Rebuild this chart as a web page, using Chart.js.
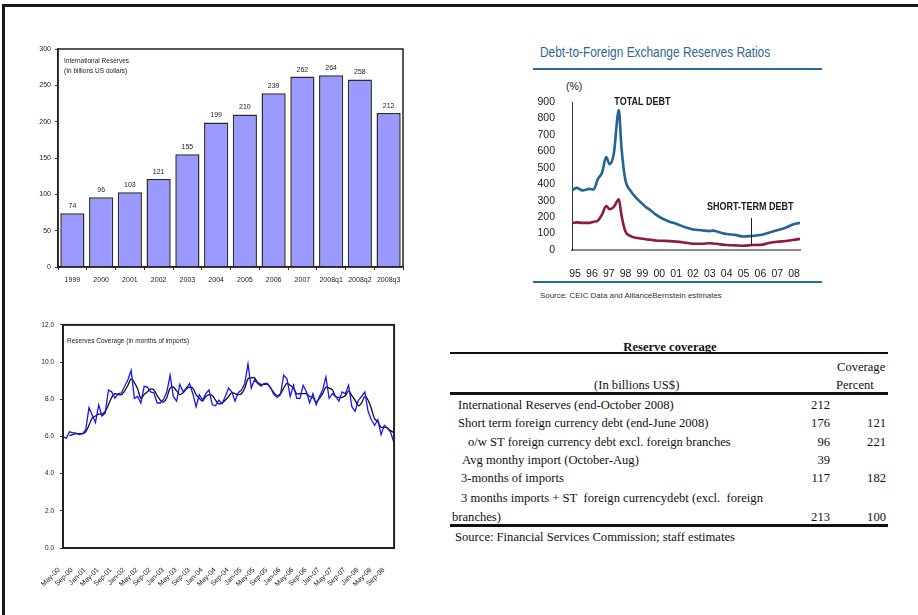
<!DOCTYPE html>
<html>
<head>
<meta charset="utf-8">
<script src="https://cdn.jsdelivr.net/npm/chart.js@4.4.1/dist/chart.umd.min.js"></script>
<style>
  body { margin: 0; width: 918px; height: 615px; background: #fff; position: relative; overflow: hidden; font-family: "Liberation Sans", Arial, sans-serif; }
  .frame { position: absolute; left: 2px; top: 4px; width: 940px; height: 640px; border-top: 3px solid #1a1a1a; border-left: 3px solid #1a1a1a; }
  .box { position: absolute; }
  .narrow { position: absolute; white-space: nowrap; font-family: "Liberation Sans", Arial, sans-serif; transform-origin: 0 0; }
  .t { position: absolute; white-space: nowrap; font-family: "Liberation Serif", "Times New Roman", serif; font-size: 12.6px; line-height: 16px; color: #111; }
  .n { text-align: right; width: 40px; }
  .rule { position: absolute; background: #111; }
</style>
</head>
<body>
<div class="frame"></div>

<div class="box" style="left:0;top:40px;width:410px;height:260px"><canvas id="reserves"></canvas></div>
<div class="box" style="left:0;top:315px;width:410px;height:300px"><canvas id="coverage"></canvas></div>

<div class="narrow" style="left:540px;top:44px;font-size:14px;color:#2b6898;transform:scaleX(0.85)">Debt-to-Foreign Exchange Reserves Ratios</div>
<div class="rule" style="left:533px;top:68px;width:289px;height:2px;background:#2a6a96"></div>
<div class="narrow" style="left:566px;top:80px;font-size:10.5px;color:#222">(%)</div>
<div class="box" style="left:525px;top:80px;width:300px;height:200px"><canvas id="debt"></canvas></div>
<div class="rule" style="left:533px;top:281px;width:289px;height:2px;background:#2a6a96"></div>
<div class="narrow" style="left:540px;top:291px;font-size:8px;color:#333;transform:scaleX(0.99)">Source: CEIC Data and AllianceBernstein estimates</div>

<!-- reserve coverage table -->
<div class="t" style="left:450px;top:339px;width:440px;text-align:center;font-weight:bold">Reserve coverage</div>
<div class="rule" style="left:450px;top:352px;width:438px;height:1.5px"></div>
<div class="t" style="left:837px;top:359px">Coverage</div>
<div class="t" style="left:594px;top:377px">(In billions US$)</div>
<div class="t" style="left:836px;top:377px">Percent</div>
<div class="rule" style="left:450px;top:392px;width:438px;height:2.5px"></div>

<div class="t" style="left:458px;top:397px">International Reserves (end-October 2008)</div>
<div class="t n" style="left:790px;top:397px">212</div>

<div class="t" style="left:458px;top:415px">Short term foreign currency debt (end-June 2008)</div>
<div class="t n" style="left:790px;top:415px">176</div>
<div class="t n" style="left:846px;top:415px">121</div>

<div class="t" style="left:468px;top:434px">o/w ST foreign currency debt excl. foreign branches</div>
<div class="t n" style="left:790px;top:434px">96</div>
<div class="t n" style="left:846px;top:434px">221</div>

<div class="t" style="left:462px;top:452px">Avg monthy import (October-Aug)</div>
<div class="t n" style="left:790px;top:452px">39</div>

<div class="t" style="left:461px;top:470px">3-months of imports</div>
<div class="t n" style="left:790px;top:470px">117</div>
<div class="t n" style="left:846px;top:470px">182</div>

<div class="t" style="left:461px;top:490px">3 months imports + ST&nbsp; foreign currencydebt (excl.&nbsp; foreign</div>
<div class="t" style="left:452px;top:509px">branches)</div>
<div class="t n" style="left:790px;top:509px">213</div>
<div class="t n" style="left:846px;top:509px">100</div>
<div class="rule" style="left:450px;top:524px;width:438px;height:2.5px"></div>
<div class="t" style="left:455px;top:529px">Source: Financial Services Commission; staff estimates</div>

<script>
// International reserves, billions of US dollars
const reserveYears = ['1999', '2000', '2001', '2002', '2003', '2004', '2005', '2006', '2007', '2008q1', '2008q2', '2008q3'];
const reserveValues = [74, 96, 103, 121, 155, 199, 210, 239, 262, 264, 258, 212];
const reserveTicks = [0, 50, 100, 150, 200, 250, 300];

// Debt-to-reserves ratios (%), by decimal year
const debtDates = [1994.85, 1995.1, 1995.45, 1995.85, 1996.1, 1996.35, 1996.6, 1996.85, 1997.05, 1997.3,
  1997.6, 1997.75, 1997.98, 1998.3, 1998.6, 1998.9, 1999.2, 1999.5, 1999.8, 2000.2,
  2000.6, 2001.0, 2001.5, 2002.0, 2002.5, 2003.0, 2003.2, 2003.5, 2004.0, 2004.5,
  2005.0, 2005.5, 2006.0, 2006.5, 2007.0, 2007.5, 2008.0, 2008.35];
const totalDebt = [365, 378, 362, 372, 368, 430, 470, 565, 522, 585,
  851, 630, 430, 360, 320, 290, 262, 240, 215, 190,
  172, 160, 140, 125, 120, 115, 118, 110, 97, 92,
  82, 86, 91, 105, 120, 135, 158, 165];
const shortTermDebt = [165, 168, 165, 165, 172, 178, 215, 268, 248, 262,
  308, 215, 115, 85, 75, 70, 65, 62, 58, 56,
  54, 51, 45, 38, 38, 41, 40, 36, 30, 28,
  26, 30, 31, 42, 50, 55, 62, 68];
const debtYearTicks = [1995, 1996, 1997, 1998, 1999, 2000, 2001, 2002, 2003, 2004, 2005, 2006, 2007, 2008];
const debtTicks = [0, 100, 200, 300, 400, 500, 600, 700, 800, 900];

// Reserves coverage in months of imports, monthly from May-00
const coverageMonthly = [6.0, 5.9, 6.25, 6.2, 6.18, 6.1, 6.15, 6.35, 7.55, 7.15,
  6.75, 7.7, 7.1, 7.25, 8.5, 8.4, 8.05, 8.3, 8.35, 8.7,
  9.05, 9.55, 8.05, 8.15, 7.8, 8.7, 8.65, 8.4, 8.35, 7.8,
  7.8, 8.0, 8.4, 9.3, 8.15, 7.9, 8.8, 8.4, 8.6, 8.85,
  8.3, 7.6, 8.25, 7.95, 8.3, 8.5, 7.7, 7.65, 7.95, 7.75,
  8.15, 8.6, 8.4, 7.9, 8.35, 8.5, 8.85, 9.9, 8.6, 9.05,
  8.85, 8.7, 8.85, 8.85, 8.6, 8.25, 8.1, 8.25, 9.3, 9.1,
  8.15, 8.75, 8.05, 8.05, 8.75, 8.4, 7.8, 8.3, 7.7, 8.15,
  8.5, 9.2, 8.05, 8.3, 8.15, 7.9, 8.4, 8.3, 8.75, 7.6,
  7.35, 7.95, 8.15, 8.4, 7.35, 6.9, 6.6, 6.9, 6.1, 6.6,
  6.45, 6.2, 5.65];
const coverageAverage = [null, null, 6.05, 6.1, 6.15, 6.15, 6.15, 6.25, 6.6, 7.0,
  7.1, 7.2, 7.2, 7.35, 7.7, 8.1, 8.3, 8.25, 8.25, 8.45,
  8.75, 9.1, 8.9, 8.55, 8.05, 8.25, 8.4, 8.55, 8.5, 8.2,
  7.95, 7.85, 8.1, 8.6, 8.65, 8.45, 8.25, 8.35, 8.55, 8.65,
  8.6, 8.25, 8.05, 7.9, 8.15, 8.25, 8.2, 7.95, 7.75, 7.8,
  7.95, 8.15, 8.35, 8.3, 8.25, 8.3, 8.6, 9.1, 9.15, 9.15,
  8.9, 8.8, 8.8, 8.8, 8.6, 8.35, 8.2, 8.3, 8.6, 8.85,
  8.75, 8.6, 8.3, 8.3, 8.3, 8.3, 8.15, 8.1, 7.85, 8.05,
  8.3, 8.65, 8.6, 8.5, 8.15, 8.1, 8.1, 8.2, 8.45, 8.2,
  7.95, 7.65, 7.8, 8.15, 7.95, 7.5, 6.95, 6.8, 6.5, 6.5,
  6.45, 6.3, 6.2];
const coverageTickLabels = ['May-00', 'Sep-00', 'Jan-01', 'May-01', 'Sep-01', 'Jan-02', 'May-02', 'Sep-02',
  'Jan-03', 'May-03', 'Sep-03', 'Jan-04', 'May-04', 'Sep-04', 'Jan-05', 'May-05', 'Sep-05',
  'Jan-06', 'May-06', 'Sep-06', 'Jan-07', 'May-07', 'Sep-07', 'Jan-08', 'May-08', 'Sep-08'];
const coverageTicks = [0, 2, 4, 6, 8, 10, 12];

const monthNames = ['Jan', 'Feb', 'Mar', 'Apr', 'May', 'Jun', 'Jul', 'Aug', 'Sep', 'Oct', 'Nov', 'Dec'];
const coverageMonths = coverageMonthly.map((v, i) => {
  const m = 4 + i;
  return monthNames[m % 12] + '-' + String(Math.floor(m / 12)).padStart(2, '0');
});

const SANS = '"Liberation Sans", Arial, sans-serif';

Chart.defaults.font.family = SANS;
Chart.defaults.color = '#222';
Chart.defaults.animation = false;
Chart.defaults.plugins.legend.display = false;
Chart.defaults.plugins.tooltip.enabled = false;

// box round the plot area
const frameBox = {
  id: 'frameBox',
  afterDatasetsDraw(chart, args, opts) {
    const { ctx, chartArea: a } = chart;
    ctx.save();
    ctx.strokeStyle = opts.color;
    ctx.lineWidth = opts.width;
    ctx.strokeRect(a.left, a.top, a.right - a.left, a.bottom - a.top);
    ctx.restore();
  }
};

// small caption in the top left corner of the plot area
const cornerCaption = {
  id: 'cornerCaption',
  afterDraw(chart, args, opts) {
    const { ctx, chartArea: a } = chart;
    ctx.save();
    ctx.font = opts.size + 'px ' + SANS;
    ctx.fillStyle = '#222';
    ctx.textBaseline = 'middle';
    opts.lines.forEach((line, i) => ctx.fillText(line, a.left + opts.dx, a.top + opts.dy + i * opts.step));
    ctx.restore();
  }
};

const barValues = {
  id: 'barValues',
  afterDatasetsDraw(chart) {
    const ctx = chart.ctx;
    const meta = chart.getDatasetMeta(0);
    ctx.save();
    ctx.font = '7px ' + SANS;
    ctx.fillStyle = '#222';
    ctx.textAlign = 'center';
    ctx.textBaseline = 'middle';
    meta.data.forEach((bar, i) => ctx.fillText(reserveValues[i], bar.x, bar.y - 7));
    ctx.restore();
  }
};

// series names and the leader line, squeezed a little like a narrow face
const debtLabels = {
  id: 'debtLabels',
  afterDatasetsDraw(chart) {
    const { ctx, scales: { x, y } } = chart;
    const squeezed = (text, px, py) => {
      ctx.save();
      ctx.translate(px, py);
      ctx.scale(0.9, 1);
      ctx.fillText(text, 0, 0);
      ctx.restore();
    };
    ctx.save();
    ctx.font = 'bold 10px ' + SANS;
    ctx.fillStyle = '#1a1a1a';
    ctx.textAlign = 'center';
    ctx.textBaseline = 'middle';
    squeezed('TOTAL DEBT', x.getPixelForValue(1999.0), y.getPixelForValue(900));
    squeezed('SHORT-TERM DEBT', x.getPixelForValue(2005.4), y.getPixelForValue(262));
    ctx.strokeStyle = '#222';
    ctx.lineWidth = 1;
    const lx = Math.round(x.getPixelForValue(2005.45)) + 0.5;
    ctx.beginPath();
    ctx.moveTo(lx, y.getPixelForValue(195));
    ctx.lineTo(lx, y.getPixelForValue(28));
    ctx.stroke();
    ctx.restore();
  }
};

new Chart(document.getElementById('reserves'), {
  type: 'bar',
  data: {
    labels: reserveYears,
    datasets: [{
      data: reserveValues,
      backgroundColor: '#9999ff',
      borderColor: '#2a2a2a',
      borderWidth: 1.5,
      categoryPercentage: 1,
      barPercentage: 0.84
    }]
  },
  options: {
    responsive: true,
    maintainAspectRatio: false,
    layout: { padding: { top: 9, right: 7, left: 0, bottom: 0 } },
    scales: {
      x: {
        grid: { drawOnChartArea: false, tickLength: 3, color: '#333', offset: true },
        border: { color: '#222', width: 1.5 },
        ticks: { font: { size: 7 }, padding: 6, maxRotation: 0, autoSkip: false },
        afterFit: s => { s.height = 33; }
      },
      y: {
        min: 0, max: 300,
        afterBuildTicks: s => { s.ticks = reserveTicks.map(v => ({ value: v })); },
        grid: { drawOnChartArea: false, tickLength: 3, color: '#333' },
        border: { color: '#222', width: 1.5 },
        ticks: { font: { size: 7 }, padding: 4 },
        afterFit: s => { s.width = 58; }
      }
    },
    plugins: {
      frameBox: { color: '#222', width: 1.5 },
      cornerCaption: { lines: ['International Reserves', '(In billions US dollars)'], size: 6.5, dx: 6, dy: 12, step: 10 }
    }
  },
  plugins: [frameBox, barValues, cornerCaption]
});

new Chart(document.getElementById('coverage'), {
  type: 'line',
  data: {
    labels: coverageMonths,
    datasets: [{
      data: coverageMonthly,
      borderColor: '#1414ff',
      borderWidth: 1.3,
      pointRadius: 0,
      tension: 0
    }, {
      data: coverageAverage,
      borderColor: '#111',
      borderWidth: 1.3,
      pointRadius: 0,
      tension: 0.35
    }]
  },
  options: {
    responsive: true,
    maintainAspectRatio: false,
    layout: { padding: { top: 9, right: 7, left: 0, bottom: 0 } },
    scales: {
      x: {
        grid: { display: false },
        border: { color: '#222', width: 2 },
        ticks: {
          font: { size: 7 },
          padding: 10,
          labelOffset: -4,
          autoSkip: false,
          minRotation: 45,
          maxRotation: 45,
          callback: function (v) {
            const lab = this.getLabelForValue(v);
            return coverageTickLabels.includes(lab) ? lab : '';
          }
        },
        afterFit: s => { s.height = 67; }
      },
      y: {
        min: 0, max: 12,
        afterBuildTicks: s => { s.ticks = coverageTicks.map(v => ({ value: v })); },
        grid: { drawOnChartArea: false, tickLength: 3, color: '#333' },
        border: { color: '#222', width: 2 },
        ticks: { font: { size: 6.5 }, padding: 6, callback: v => v.toFixed(1) },
        afterFit: s => { s.width = 63; }
      }
    },
    plugins: {
      frameBox: { color: '#222', width: 2 },
      cornerCaption: { lines: ['Reserves Coverage (in months of imports)'], size: 6.5, dx: 4, dy: 16, step: 10 }
    }
  },
  plugins: [frameBox, cornerCaption]
});

new Chart(document.getElementById('debt'), {
  type: 'line',
  data: {
    datasets: [{
      data: debtDates.map((d, i) => ({ x: d, y: totalDebt[i] })),
      borderColor: '#226492',
      borderWidth: 2.6,
      pointRadius: 0,
      cubicInterpolationMode: 'monotone'
    }, {
      data: debtDates.map((d, i) => ({ x: d, y: shortTermDebt[i] })),
      borderColor: '#8c1a42',
      borderWidth: 2.6,
      pointRadius: 0,
      cubicInterpolationMode: 'monotone'
    }]
  },
  options: {
    responsive: true,
    maintainAspectRatio: false,
    layout: { padding: { top: 22, right: 25, left: 0, bottom: 0 } },
    scales: {
      x: {
        type: 'linear',
        min: 1994.82, max: 2008.35,
        afterBuildTicks: s => { s.ticks = debtYearTicks.map(v => ({ value: v })); },
        grid: { display: false },
        border: { color: '#8a8a8a', width: 2 },
        ticks: { font: { size: 10.5 }, color: '#1a1a1a', padding: 10, maxRotation: 0, autoSkip: false,
          callback: v => String(v % 100).padStart(2, '0') },
        afterFit: s => { s.height = 30; }
      },
      y: {
        min: 0, max: 900,
        afterBuildTicks: s => { s.ticks = debtTicks.map(v => ({ value: v })); },
        grid: { display: false },
        border: { color: '#333', width: 1 },
        ticks: { font: { size: 10.5 }, color: '#1a1a1a', padding: 9, autoSkip: false },
        afterFit: s => { s.width = 47; }
      }
    }
  },
  plugins: [debtLabels]
});
</script>
</body>
</html>
